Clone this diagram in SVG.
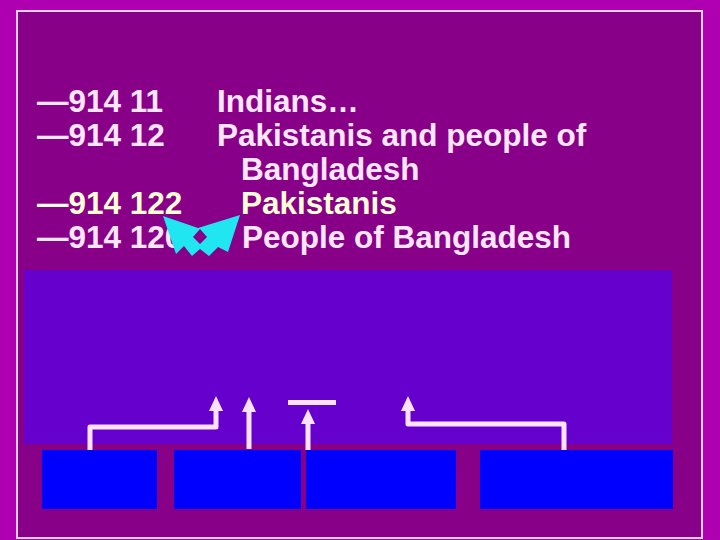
<svg xmlns="http://www.w3.org/2000/svg" width="720" height="540" viewBox="0 0 720 540">
  <style>
    .t { font-family: "Liberation Sans", Arial, sans-serif; font-weight: bold; font-size: 31.5px; fill: #FFE6FF; }
    .y { fill: #FFFFD6; }
    .box { fill: #0000FF; }
    .conn { fill: none; stroke: #FFE2FF; stroke-width: 5; stroke-linejoin: round; }
    .head { fill: #FFE2FF; }
  </style>
  <rect x="0" y="0" width="720" height="540" fill="#AE00B0"/>
  <rect x="17" y="11" width="685" height="527" fill="#880088" stroke="#F6CEF6" stroke-width="2"/>

  <g id="text-list">
    <text class="t" x="37" y="112">—914 11</text>
    <text class="t" x="217" y="112">Indians…</text>
    <text class="t" x="37" y="146">—914 12</text>
    <text class="t" x="217" y="146">Pakistanis and people of</text>
    <text class="t" x="241" y="180">Bangladesh</text>
    <text class="t y" x="37" y="214">—914 122</text>
    <text class="t y" x="241" y="214">Pakistanis</text>
    <text class="t" x="37" y="248">—914 120</text>
    <text class="t" x="242" y="248">People of Bangladesh</text>
  </g>

  <g id="cyan-shape">
    <path fill="#20E6F2" fill-rule="evenodd" d="M163,216 L198,228 L240,215 L228,252 L218,247 L209,256 L200,249 L192,256 L184,246 L176,254 Z M200,229 L207,237 L200,244 L193,237 Z"/>
  </g>

  <g id="panel">
    <rect x="24" y="270" width="648" height="174" fill="#6600CC"/>
  </g>

  <g id="box1"><rect class="box" x="42" y="450" width="115" height="59"/></g>
  <g id="box2"><rect class="box" x="174" y="450" width="127" height="59"/></g>
  <g id="box3"><rect class="box" x="306" y="450" width="150" height="59"/></g>
  <g id="box4"><rect class="box" x="480" y="450" width="193" height="59"/></g>

  <g id="connectors">
    <polyline class="conn" points="90,450 90,427 216,427 216,408"/>
    <polygon class="head" points="216,396 209,411 223,411"/>
    <line class="conn" x1="249" y1="449" x2="249" y2="408"/>
    <polygon class="head" points="249,397 242,412 256,412"/>
    <line class="conn" x1="308" y1="450" x2="308" y2="420"/>
    <polygon class="head" points="308,409 301,424 315,424"/>
    <line class="conn" x1="288" y1="402.5" x2="336" y2="402.5" stroke-width="4.5"/>
    <polyline class="conn" points="564,450 564,424 408,424 408,408"/>
    <polygon class="head" points="408,396 401,411 415,411"/>
  </g>
</svg>
